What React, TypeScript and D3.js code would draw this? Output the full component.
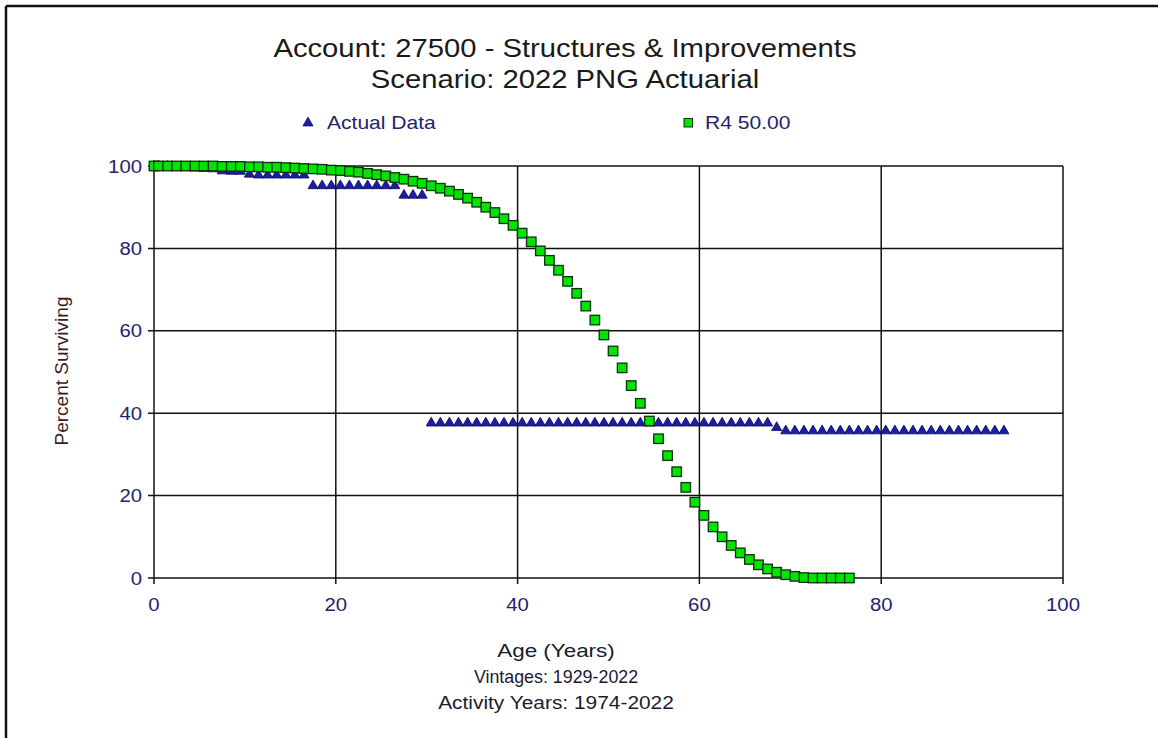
import React from "react";
import * as d3 from "d3";

const titleLines = ["Account: 27500 - Structures & Improvements", "Scenario: 2022 PNG Actuarial"];
const xTicks = [0, 20, 40, 60, 80, 100];
const yTicks = [0, 20, 40, 60, 80, 100];
const xTitleLines = ["Age (Years)", "Vintages: 1929-2022", "Activity Years: 1974-2022"];
const yTitle = "Percent Surviving";
const seriesNames = ["Actual Data", "R4 50.00"];

// Actual data (triangles)
const actualAges = [
  0, 0.5, 1.5, 2.5, 3.5, 4.5, 5.5, 6.5, 7.5, 8.5, 9.5, 10.5, 11.5, 12.5, 13.5, 14.5, 15.5, 16.5,
  17.5, 18.5, 19.5, 20.5, 21.5, 22.5, 23.5, 24.5, 25.5, 26.5, 27.5, 28.5, 29.5,
  30.5, 31.5, 32.5, 33.5, 34.5, 35.5, 36.5, 37.5, 38.5, 39.5, 40.5, 41.5, 42.5, 43.5, 44.5,
  45.5, 46.5, 47.5, 48.5, 49.5, 50.5, 51.5, 52.5, 53.5, 54.5, 55.5, 56.5, 57.5, 58.5, 59.5,
  60.5, 61.5, 62.5, 63.5, 64.5, 65.5, 66.5, 67.5, 68.5, 69.5, 70.5, 71.5, 72.5, 73.5, 74.5,
  75.5, 76.5, 77.5, 78.5, 79.5, 80.5, 81.5, 82.5, 83.5, 84.5, 85.5, 86.5, 87.5, 88.5, 89.5,
  90.5, 91.5, 92.5, 93.5,
];
const actualValues = [
  100, 100, 99.9, 99.6, 99.6, 99.5, 99.4, 99.3, 98.8, 98.7, 98.7, 98.0, 97.8, 97.8, 97.8, 97.8, 97.8, 97.8,
  95.2, 95.2, 95.2, 95.2, 95.2, 95.2, 95.2, 95.2, 95.2, 95.2, 92.9, 92.9, 92.9,
  37.6, 37.6, 37.6, 37.6, 37.6, 37.6, 37.6, 37.6, 37.6, 37.6, 37.6, 37.6, 37.6, 37.6, 37.6,
  37.6, 37.6, 37.6, 37.6, 37.6, 37.6, 37.6, 37.6, 37.6, 37.6, 37.6, 37.6, 37.6, 37.6, 37.6,
  37.6, 37.6, 37.6, 37.6, 37.6, 37.6, 37.6, 37.6, 36.5, 35.7, 35.7, 35.7, 35.7, 35.7, 35.7,
  35.7, 35.7, 35.7, 35.7, 35.7, 35.7, 35.7, 35.7, 35.7, 35.7, 35.7, 35.7, 35.7, 35.7, 35.7,
  35.7, 35.7, 35.7, 35.7,
];

// R4 50.00 curve (squares)
const curveAges = [
  0, 0.5, 1.5, 2.5, 3.5, 4.5, 5.5, 6.5, 7.5, 8.5, 9.5, 10.5, 11.5, 12.5, 13.5, 14.5, 15.5, 16.5,
  17.5, 18.5, 19.5, 20.5, 21.5, 22.5, 23.5, 24.5, 25.5, 26.5, 27.5, 28.5, 29.5,
  30.5, 31.5, 32.5, 33.5, 34.5, 35.5, 36.5, 37.5, 38.5, 39.5, 40.5, 41.5, 42.5, 43.5, 44.5,
  45.5, 46.5, 47.5, 48.5, 49.5, 50.5, 51.5, 52.5, 53.5, 54.5, 55.5, 56.5, 57.5, 58.5, 59.5,
  60.5, 61.5, 62.5, 63.5, 64.5, 65.5, 66.5, 67.5, 68.5, 69.5, 70.5, 71.5, 72.5, 73.5, 74.5,
  75.5, 76.5,
];
const curveValues = [
  100, 100, 100, 100, 100, 100, 100, 100, 99.9, 99.9, 99.9, 99.8, 99.8, 99.7, 99.7, 99.6, 99.5, 99.4,
  99.3, 99.2, 99.0, 98.9, 98.7, 98.5, 98.2, 97.9, 97.6, 97.2, 96.8, 96.3, 95.8,
  95.2, 94.6, 93.9, 93.1, 92.2, 91.2, 90.0, 88.7, 87.2, 85.6, 83.7, 81.6, 79.4, 77.1, 74.7,
  72.0, 69.1, 66.0, 62.6, 59.0, 55.1, 51.0, 46.7, 42.4, 38.1, 33.8, 29.7, 25.8, 22.0, 18.4,
  15.2, 12.4, 10.0, 7.9, 6.1, 4.5, 3.2, 2.2, 1.4, 0.8, 0.4, 0.1, 0, 0, 0,
  0, 0,
];

const W = 1158;
const H = 738;
const M = { left: 154, right: 1063, top: 166, bottom: 578 };
const FONT = "'Liberation Sans', Arial, sans-serif";
const NAVY = "#23236e";
const TRI_FILL = "#1c1ca6";
const TRI_STROKE = "#0a0a55";
const SQ_FILL = "#00e400";
const SQ_STROKE = "#0c300c";

function T(props: {
  x: number;
  y: number;
  sx?: number;
  size: number;
  fill: string;
  anchor?: string;
  children: React.ReactNode;
}) {
  const { x, y, sx = 1.15, size, fill, anchor = "start", children } = props;
  return (
    <text
      transform={`translate(${x},${y}) scale(${sx},1)`}
      textAnchor={anchor}
      fontFamily={FONT}
      fontSize={size}
      fill={fill}
    >
      {children}
    </text>
  );
}

export default function App() {
  const x = d3.scaleLinear().domain([0, 100]).range([M.left, M.right]);
  const y = d3.scaleLinear().domain([0, 100]).range([M.bottom, M.top]);
  const tri = d3.symbol().type(d3.symbolTriangle).size(44)();
  const sqSize = 9.5;

  return (
    <svg
      width={W}
      height={H}
      style={{ position: "absolute", left: 0, top: 0, background: "#fff" }}
    >
      <rect x={0} y={0} width={W} height={H} fill="#fff" />
      {/* outer border */}
      <line x1={6} y1={6} x2={W} y2={6} stroke="#111" strokeWidth={2.5} />
      <line x1={6} y1={6} x2={6} y2={H} stroke="#111" strokeWidth={2.5} />

      {/* titles */}
      {titleLines.map((t, i) => (
        <T key={t} x={565} y={57 + i * 31} sx={1.17} size={25} fill="#1a1a1a" anchor="middle">
          {t}
        </T>
      ))}

      {/* legend */}
      <path d={tri} transform={`translate(308,123)`} fill={TRI_FILL} stroke={TRI_STROKE} strokeWidth={0.8} />
      <T x={327} y={129} sx={1.17} size={18} fill={NAVY}>
        {seriesNames[0]}
      </T>
      <rect x={684} y={118.5} width={8.5} height={8.5} fill={SQ_FILL} stroke={SQ_STROKE} strokeWidth={1} />
      <T x={705} y={129} sx={1.17} size={18} fill={NAVY}>
        {seriesNames[1]}
      </T>

      {/* grid */}
      {yTicks.map((t) => (
        <g key={"y" + t}>
          <line x1={M.left - 6} x2={M.right} y1={y(t)} y2={y(t)} stroke="#111" strokeWidth={1.5} />
          <T x={M.left - 12} y={y(t) + 6.5} sx={1.13} size={18} fill={NAVY} anchor="end">
            {t}
          </T>
        </g>
      ))}
      {xTicks.map((t) => (
        <g key={"x" + t}>
          <line x1={x(t)} x2={x(t)} y1={M.top} y2={M.bottom + 6} stroke="#111" strokeWidth={1.5} />
          <T x={x(t)} y={M.bottom + 33} sx={1.13} size={18} fill={NAVY} anchor="middle">
            {t}
          </T>
        </g>
      ))}

      {/* actual data triangles */}
      {actualAges.map((a, i) => (
        <path
          key={"a" + i}
          d={tri}
          transform={`translate(${x(a)},${y(actualValues[i])})`}
          fill={TRI_FILL}
          stroke={TRI_STROKE}
          strokeWidth={0.8}
        />
      ))}

      {/* R4 curve squares */}
      {curveAges.map((a, i) => (
        <rect
          key={"c" + i}
          x={x(a) - sqSize / 2}
          y={y(curveValues[i]) - sqSize / 2}
          width={sqSize}
          height={sqSize}
          fill={SQ_FILL}
          stroke={SQ_STROKE}
          strokeWidth={1.3}
        />
      ))}

      {/* axis titles */}
      <text
        transform={`translate(68,371) rotate(-90)`}
        textAnchor="middle"
        fontFamily={FONT}
        fontSize={19}
        fill="#3a1d1d"
      >
        {yTitle}
      </text>
      {xTitleLines.map((t, i) => (
        <T
          key={t}
          x={556}
          y={657 + i * 26}
          sx={i === 0 ? 1.18 : i === 1 ? 1.02 : 1.13}
          size={i === 0 ? 19 : i === 1 ? 17.5 : 18.5}
          fill="#1a1a33"
          anchor="middle"
        >
          {t}
        </T>
      ))}
    </svg>
  );
}
